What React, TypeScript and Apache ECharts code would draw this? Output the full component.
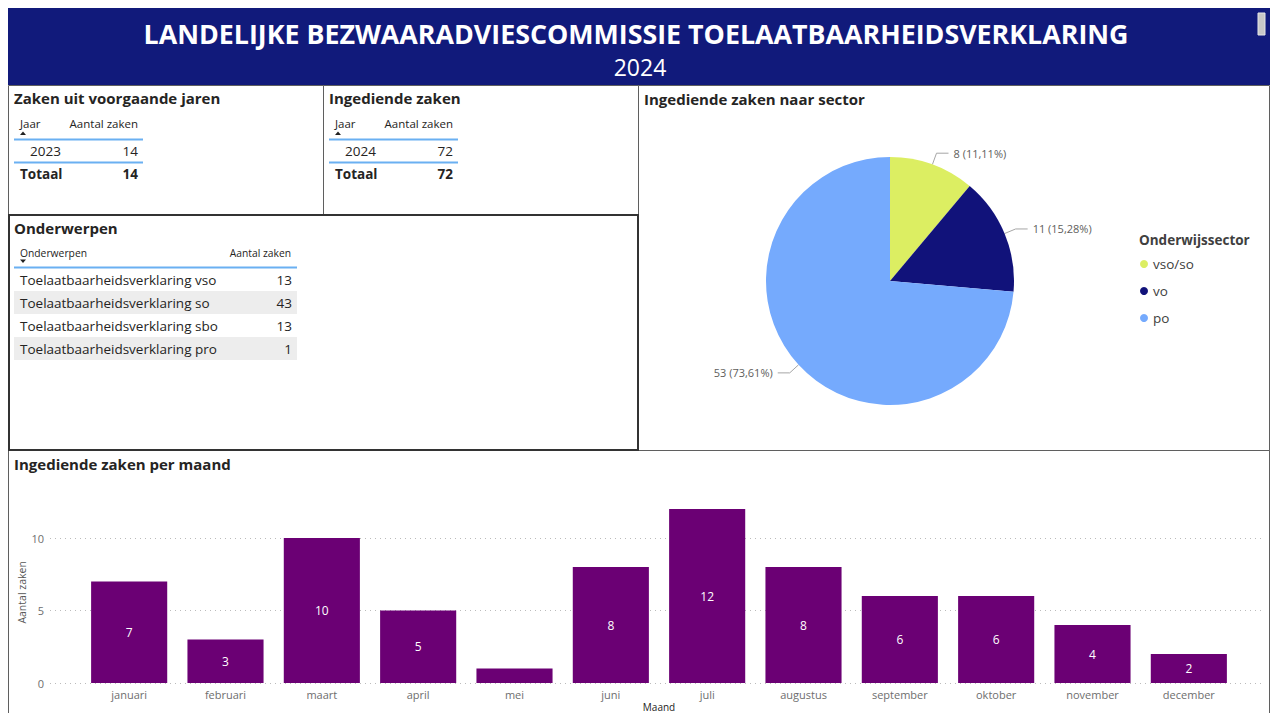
import React, { useEffect, useRef } from "react";
import * as echarts from "echarts";

// ---------- data ----------
const TITLE = "LANDELIJKE BEZWAARADVIESCOMMISSIE TOELAATBAARHEIDSVERKLARING";
const SUBTITLE = "2024";

const prevYears = ["2023"];
const prevCounts = [14];
const newYears = ["2024"];
const newCounts = [72];

const subjects = [
  "Toelaatbaarheidsverklaring vso",
  "Toelaatbaarheidsverklaring so",
  "Toelaatbaarheidsverklaring sbo",
  "Toelaatbaarheidsverklaring pro",
];
const subjectCounts = [13, 43, 13, 1];

const sectors = ["vso/so", "vo", "po"];
const sectorValues = [8, 11, 53];

const months = [
  "januari", "februari", "maart", "april", "mei", "juni",
  "juli", "augustus", "september", "oktober", "november", "december",
];
const monthValues = [7, 3, 10, 5, 1, 8, 12, 8, 6, 6, 4, 2];

const yTickStep = 5;
const yMax = 12.5;

// ---------- styles ----------
const FONT = '"Open Sans", "Noto Sans", sans-serif';
const DARK = "#252423";
const sectorColors = ["#DCEE62", "#11127A", "#75AAFD"];
const BAR = "#6B0074";
const BLUE_LINE = "#6AB0F2";

function txt(x: number, y: number, text: string, opts: any = {}) {
  return {
    type: "text",
    x,
    y,
    silent: true,
    style: {
      text,
      fill: opts.fill || DARK,
      fontFamily: FONT,
      fontSize: opts.size || 13,
      fontWeight: opts.weight || "normal",
      align: opts.align || "left",
      textAlign: opts.align || "left",
      verticalAlign: "middle",
      textVerticalAlign: "middle",
    },
  };
}

function hline(x1: number, x2: number, y: number, color: string, w = 2) {
  return {
    type: "line",
    silent: true,
    shape: { x1, y1: y, x2, y2: y },
    style: { stroke: color, lineWidth: w },
  };
}

function box(x: number, y: number, w: number, h: number, color: string, lw = 1) {
  return {
    type: "rect",
    silent: true,
    shape: { x, y, width: w, height: h },
    style: { fill: "none", stroke: color, lineWidth: lw },
  };
}

function yearTable(dx: number, title: string, years: string[], counts: number[]) {
  const els: any[] = [];
  els.push(txt(14 + dx, 98, title, { size: 15, weight: "bold" }));
  els.push(txt(20 + dx, 123, "Jaar", { size: 11.5 }));
  els.push(txt(138 + dx, 123, "Aantal zaken", { size: 11.5, align: "right" }));
  els.push({
    type: "polygon",
    silent: true,
    shape: { points: [[20 + dx, 135], [26 + dx, 135], [23 + dx, 131.5]] },
    style: { fill: "#222" },
  });
  els.push(hline(14 + dx, 143 + dx, 139.5, BLUE_LINE));
  years.forEach((yr, i) => {
    const y = 151 + i * 23;
    els.push(txt(30 + dx, y, yr, { size: 13.5 }));
    els.push(txt(138 + dx, y, String(counts[i]), { size: 13.5, align: "right" }));
  });
  const ly = 162.5 + (years.length - 1) * 23;
  els.push(hline(14 + dx, 143 + dx, ly, BLUE_LINE));
  const total = counts.reduce((a, b) => a + b, 0);
  els.push(txt(20 + dx, ly + 11.5, "Totaal", { size: 13.5, weight: "bold" }));
  els.push(txt(138 + dx, ly + 11.5, String(total), { size: 13.5, weight: "bold", align: "right" }));
  return els;
}

function subjectTable() {
  const els: any[] = [];
  els.push(txt(14, 228, "Onderwerpen", { size: 15, weight: "bold" }));
  els.push(txt(20, 253, "Onderwerpen", { size: 10.3 }));
  els.push(txt(291, 253, "Aantal zaken", { size: 10.3, align: "right" }));
  els.push({
    type: "polygon",
    silent: true,
    shape: { points: [[20, 259.5], [26, 259.5], [23, 263]] },
    style: { fill: "#222" },
  });
  els.push(hline(14, 297, 267.5, BLUE_LINE));
  subjects.forEach((s, i) => {
    const y = 279.5 + i * 23;
    if (i % 2 === 1) {
      els.push({
        type: "rect",
        silent: true,
        shape: { x: 14, y: y - 11.5, width: 283, height: 23 },
        style: { fill: "#EDEDED" },
      });
    }
    els.push(txt(20, y, s, { size: 13.5 }));
    els.push(txt(292, y, String(subjectCounts[i]), { size: 13.5, align: "right" }));
  });
  return els;
}

function buildOption(): any {
  const graphic: any[] = [
    { type: "rect", silent: true, shape: { x: 8, y: 8, width: 1262, height: 77 }, style: { fill: "#111A7B" } },
    txt(636, 33, TITLE, { size: 26.8, weight: "bold", fill: "#FFFFFF", align: "center" }),
    txt(640, 67, SUBTITLE, { size: 23, fill: "#FFFFFF", align: "center" }),
    { type: "rect", silent: true, shape: { x: 1258, y: 13, width: 7, height: 22 }, style: { fill: "#C8C8C8", stroke: "#E6E6E6", lineWidth: 1 } },
    box(8.5, 85.5, 315, 129, "#5F5F5F"),
    box(323.5, 85.5, 315, 129, "#5F5F5F"),
    box(638.5, 85.5, 631, 365, "#5F5F5F"),
    box(8.5, 450.5, 1261, 266, "#5F5F5F"),
    box(9, 215, 629, 235, "#333333", 2),
    ...yearTable(0, "Zaken uit voorgaande jaren", prevYears, prevCounts),
    ...yearTable(315, "Ingediende zaken", newYears, newCounts),
    ...subjectTable(),
    txt(644, 99, "Ingediende zaken naar sector", { size: 15, weight: "bold" }),
    txt(1139, 240, "Onderwijssector", { size: 13.5, weight: "bold", fill: "#404040" }),
    txt(14, 464, "Ingediende zaken per maand", { size: 15, weight: "bold" }),
  ];

  const axisLabelStyle = { color: "#6E6E6E", fontSize: 11, fontFamily: FONT };
  const gridTop = 683 - yMax * 14.5;

  return {
    animation: false,
    backgroundColor: "#FFFFFF",
    textStyle: { fontFamily: FONT },
    graphic,
    legend: {
      orient: "vertical",
      left: 1140,
      top: 257,
      padding: 0,
      icon: "circle",
      itemWidth: 8,
      itemHeight: 8,
      itemGap: 13,
      data: sectors,
      textStyle: { color: "#404040", fontSize: 13.5, fontFamily: FONT, lineHeight: 14 },
      selectedMode: false,
    },
    grid: [
      { left: 81, right: 35, top: gridTop, bottom: 30, outerBoundsMode: "none", containLabel: false },
      { left: 50, right: 9, top: gridTop, bottom: 30, outerBoundsMode: "none", containLabel: false },
    ],
    xAxis: [
      {
        gridIndex: 0,
        type: "category",
        data: months,
        axisLine: { show: false },
        axisTick: { show: false },
        axisLabel: { ...axisLabelStyle, margin: 6 },
        name: "Maand",
        nameLocation: "middle",
        nameGap: 18,
        nameMoveOverlap: false,
        nameTextStyle: { color: "#252423", fontSize: 10, lineHeight: 11, fontFamily: FONT },
      },
      { gridIndex: 1, type: "value", show: false, min: 0, max: 1 },
    ],
    yAxis: [
      { gridIndex: 0, type: "value", min: 0, max: yMax, interval: yTickStep, show: false, splitLine: { show: false } },
      {
        gridIndex: 1,
        type: "value",
        min: 0,
        max: yMax,
        interval: yTickStep,
        axisLine: { show: false },
        axisTick: { show: false },
        axisLabel: { ...axisLabelStyle, margin: 6, showMaxLabel: false },
        splitLine: { show: true, showMaxLine: false, lineStyle: { type: [1, 4], color: "#BBBBBB", width: 1 } },
        name: "Aantal zaken",
        nameLocation: "middle",
        nameGap: 23,
        nameMoveOverlap: false,
        nameRotate: 90,
        nameTextStyle: { color: "#555555", fontSize: 10.5, fontFamily: FONT },
      },
    ],
    series: [
      {
        type: "bar",
        xAxisIndex: 0,
        yAxisIndex: 0,
        barCategoryGap: "21%",
        itemStyle: { color: BAR },
        label: { show: true, position: "inside", color: "#FFFFFF", fontSize: 12, fontFamily: FONT },
        data: monthValues.map((v) => ({ value: v, label: { show: v >= 2 } })),
      },
      {
        type: "pie",
        center: [890, 281],
        radius: 124,
        startAngle: 90,
        clockwise: true,
        avoidLabelOverlap: false,
        data: sectors.map((s, i) => ({ name: s, value: sectorValues[i], itemStyle: { color: sectorColors[i] } })),
        label: {
          show: true,
          color: "#605E5C",
          fontSize: 11,
          fontFamily: FONT,
          formatter: (p: any) => `${p.value} (${p.percent.toFixed(2).replace(".", ",")}%)`,
        },
        labelLine: { show: true, length: 12, length2: 12, lineStyle: { color: "#A6A6A6", width: 1 } },
        emphasis: { disabled: true },
      },
    ],
  };
}

export default function App() {
  const ref = useRef<HTMLDivElement>(null);
  useEffect(() => {
    if (!ref.current) return;
    const chart = echarts.init(ref.current, undefined, { renderer: "svg" });
    chart.setOption(buildOption());
    return () => chart.dispose();
  }, []);
  return (
    <div
      style={{ position: "fixed", left: 0, top: 0, width: 1272, height: 713, background: "#FFFFFF" }}
    >
      <div ref={ref} style={{ width: 1272, height: 713 }} />
    </div>
  );
}
